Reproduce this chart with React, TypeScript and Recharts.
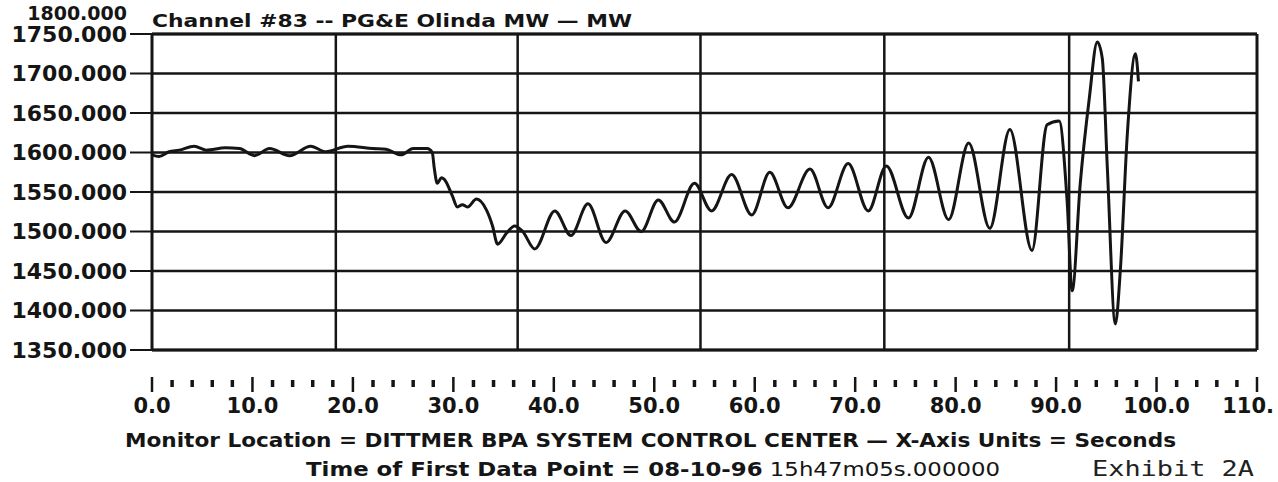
import React from "react";
import {
  LineChart,
  Line,
  XAxis,
  YAxis,
  CartesianGrid,
  ReferenceLine,
} from "recharts";

// seconds since first data point
const seconds = [
  0, 0.7, 1.7, 2.7, 4.2, 5.4, 7.3, 8.7, 10.2, 11.7, 13.7, 15.8, 17.3, 19.5,
  22.0, 23.3, 24.8, 26.0, 27.4, 27.9, 28.1, 28.4, 28.8, 29.1, 29.9, 30.4, 30.9,
  31.4, 32.3, 33.3, 33.9, 34.4, 35.3, 36.1, 36.9, 38.1, 40.1, 41.7, 43.4, 45.2,
  47.1, 48.7, 50.4, 52.0, 54.0, 55.7, 57.7, 59.7, 61.5, 63.3, 65.5, 67.3, 69.3,
  71.3, 73.1, 75.3, 77.3, 79.3, 81.3, 83.4, 85.4, 87.6, 89.1, 90.3, 91.1, 91.6,
  92.4, 93.3, 94.1, 94.6, 95.1, 95.9, 96.4, 97.1, 97.9, 98.2,
];

// PG&E Olinda MW
const megawatts = [
  1597, 1595, 1601, 1603, 1608, 1603, 1606, 1605, 1596, 1605, 1596, 1608, 1601,
  1608, 1605, 1604, 1597, 1605, 1605, 1600, 1580, 1561, 1568, 1566, 1545, 1531,
  1534, 1531, 1541, 1527, 1507, 1484, 1498, 1507, 1500, 1478, 1526, 1495, 1535,
  1486, 1526, 1500, 1540, 1512, 1561, 1526, 1572, 1521, 1575, 1530, 1579, 1530,
  1586, 1526, 1583, 1517, 1594, 1515, 1612, 1504, 1629, 1476, 1635, 1640, 1538,
  1425, 1560, 1668, 1740, 1719, 1581, 1383, 1452, 1625, 1725, 1690,
];

const mwTicks = [1350, 1400, 1450, 1500, 1550, 1600, 1650, 1700, 1750];
const timeTicks = Array.from({ length: 56 }, (_, i) => i * 2);
const gridTimes = [18.3, 36.4, 54.6, 72.9, 91.3];

const data = seconds.map((t, i) => ({ t, mw: megawatts[i] }));

const INK = "#151515";
const SANS = "'DejaVu Sans', sans-serif";

function TimeTick(props: any) {
  const { x, y, payload } = props;
  const major = payload.value % 10 === 0;
  const last = payload.value === 110;
  return (
    <g>
      <line
        x1={x}
        x2={x}
        y1={y + (major ? 27 : 30)}
        y2={y + (major ? 42 : 37)}
        stroke={INK}
        strokeWidth={major ? 2.5 : 3.5}
      />
      {major && (
        <text
          x={last ? x + 17 : x}
          y={y + 63}
          textAnchor={last ? "end" : "middle"}
          fontFamily={SANS}
          fontWeight={700}
          fontSize={21}
          fill={INK}
        >
          {last ? "110." : payload.value.toFixed(1)}
        </text>
      )}
    </g>
  );
}

// the top label sits just above the frame
function TopLabel(props: any) {
  const { viewBox } = props;
  return (
    <text
      x={viewBox.x - 25}
      y={viewBox.y + 25}
      textAnchor="end"
      fontFamily={SANS}
      fontWeight={700}
      fontSize={19}
      fill={INK}
    >
      1800.000
    </text>
  );
}

export default function App() {
  return (
    <div
      style={{
        position: "absolute",
        left: 0,
        top: 0,
        width: 1278,
        height: 482,
        background: "#fff",
        overflow: "hidden",
      }}
    >
      <LineChart
        width={1278}
        height={482}
        data={data}
        margin={{ top: 34, right: 21, bottom: 0, left: 0 }}
      >
        <CartesianGrid vertical={false} stroke={INK} strokeWidth={2.5} />
        <XAxis
          dataKey="t"
          type="number"
          domain={[0, 110]}
          ticks={timeTicks}
          interval={0}
          height={132}
          tickSize={0}
          tickMargin={0}
          tickLine={false}
          axisLine={{ stroke: INK, strokeWidth: 3 }}
          tick={<TimeTick />}
        />
        <YAxis
          type="number"
          domain={[1350, 1750]}
          ticks={mwTicks}
          interval={0}
          width={152}
          tickSize={22}
          tickMargin={3}
          tickLine={{ stroke: INK, strokeWidth: 2 }}
          axisLine={{ stroke: INK, strokeWidth: 3 }}
          tickFormatter={(v: number) => v.toFixed(3)}
          tick={{ fontFamily: SANS, fontWeight: 700, fontSize: 22, fill: INK }}
        />
        {gridTimes.map((t) => (
          <ReferenceLine key={t} x={t} stroke={INK} strokeWidth={2.5} />
        ))}
        <ReferenceLine x={110} stroke={INK} strokeWidth={3} />
        <ReferenceLine y={1750} stroke={INK} strokeWidth={3} />
        <ReferenceLine
          y={1800}
          ifOverflow="visible"
          stroke="none"
          label={<TopLabel />}
        />
        <Line
          dataKey="mw"
          type="monotone"
          stroke={INK}
          strokeWidth={3}
          dot={false}
          isAnimationActive={false}
        />
      </LineChart>
      <svg
        width={1278}
        height={482}
        style={{ position: "absolute", left: 0, top: 0, pointerEvents: "none" }}
      >
        <text
          x={152}
          y={27}
          fontFamily={SANS}
          fontWeight={700}
          fontSize={18}
          fill={INK}
          textLength={480}
          lengthAdjust="spacingAndGlyphs"
        >
          Channel #83 -- PG&amp;E Olinda MW — MW
        </text>
        <text
          x={125}
          y={447}
          fontFamily={SANS}
          fontWeight={700}
          fontSize={19}
          fill={INK}
          textLength={1051}
          lengthAdjust="spacingAndGlyphs"
        >
          Monitor Location = DITTMER BPA SYSTEM CONTROL CENTER — X-Axis Units = Seconds
        </text>
        <text
          x={306}
          y={476}
          fontFamily={SANS}
          fontWeight={700}
          fontSize={19}
          fill={INK}
          textLength={694}
          lengthAdjust="spacingAndGlyphs"
        >
          Time of First Data Point = 08-10-96
          <tspan fontWeight={400}> 15h47m05s.000000</tspan>
        </text>
        <text
          x={1092}
          y={476}
          fontFamily="'DejaVu Sans Mono', monospace"
          fontSize={22}
          fill="#222"
          textLength={162}
          lengthAdjust="spacingAndGlyphs"
        >
          Exhibit 2A
        </text>
      </svg>
    </div>
  );
}
